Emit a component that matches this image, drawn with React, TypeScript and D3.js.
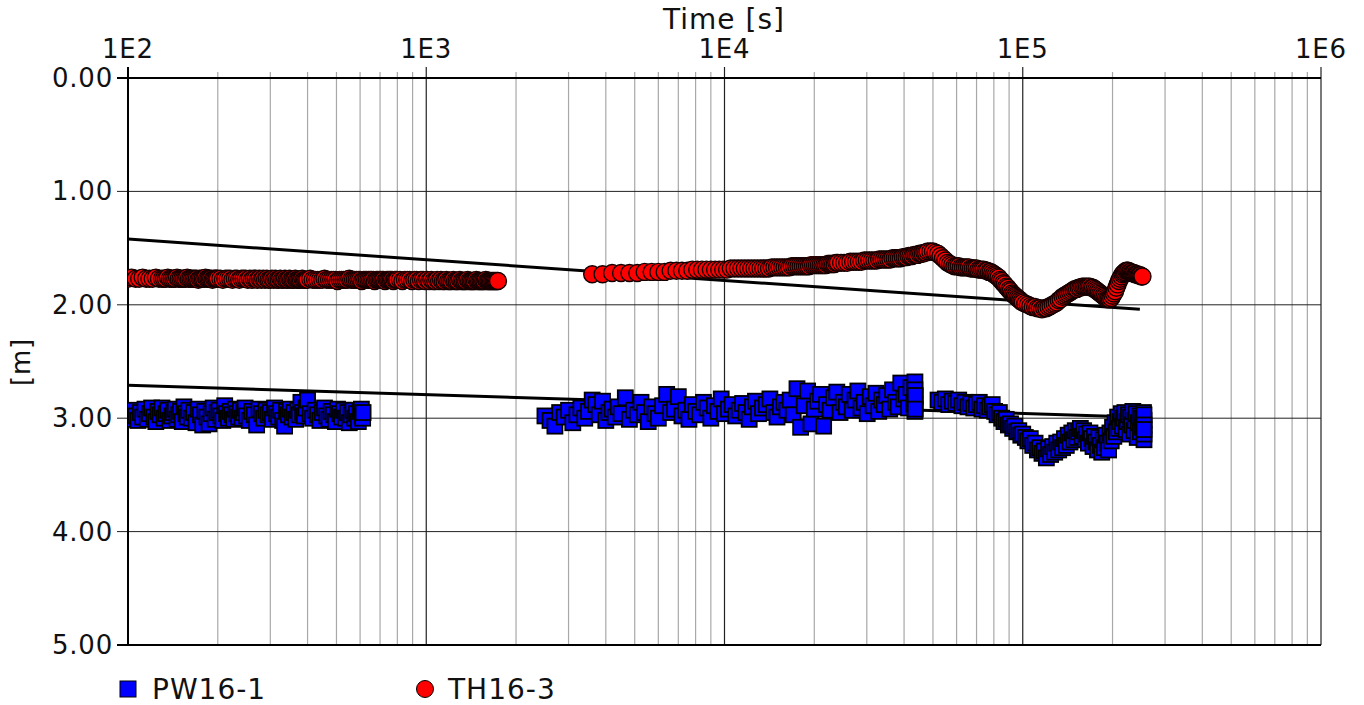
import { useEffect, useRef } from "react";
import * as d3 from "d3";

// time in seconds, drawdown in metres
const X_TICK_LABELS = ["1E2", "1E3", "1E4", "1E5", "1E6"];
const X_TICK_VALUES = [1e2, 1e3, 1e4, 1e5, 1e6];
const Y_TICK_VALUES = [0, 1, 2, 3, 4, 5];

// TH16-3, first block
const TH_A_T = [
  100, 103, 106, 109, 112, 115, 118, 121, 124, 127,
  130, 132, 134, 136, 138, 140, 142, 144, 146, 148,
  150, 152, 154, 156, 158, 160, 162, 164, 166, 168,
  170, 172, 174, 176, 178, 180, 182, 184, 186, 188,
  190, 192, 194, 196, 198, 200, 204, 208, 212, 216,
  220, 224, 228, 232, 236, 240, 244, 248, 252, 256,
  260, 264, 268, 272, 276, 280, 284, 288, 292, 296,
  300, 304, 308, 312, 316, 320, 324, 328, 332, 336,
  340, 344, 348, 352, 356, 360, 364, 368, 372, 376,
  380, 384, 388, 392, 396, 400, 408, 416, 424, 432,
  440, 448, 456, 464, 472, 480, 488, 496, 504, 512,
  520, 528, 536, 544, 552, 560, 568, 576, 584, 592,
  600, 608, 616, 624, 632, 640, 648, 656, 664, 672,
  680, 688, 696, 704, 712, 720, 728, 736, 744, 752,
  760, 768, 776, 784, 792, 800, 816, 832, 848, 864,
  880, 896, 912, 928, 944, 960, 976, 992, 1008, 1024,
  1040, 1056, 1072, 1088, 1104, 1120, 1136, 1152, 1168, 1184,
  1200, 1216, 1232, 1248, 1264, 1280, 1296, 1312, 1328, 1344,
  1360, 1376, 1392, 1408, 1424, 1440, 1456, 1472, 1488, 1504,
  1520, 1536, 1552, 1568, 1584, 1600, 1616, 1632, 1648, 1664,
  1680, 1696, 1712, 1728, 1740,
];
const TH_A_D = [
  1.77, 1.76, 1.77, 1.77, 1.76, 1.77, 1.77, 1.77, 1.76, 1.77,
  1.77, 1.77, 1.77, 1.76, 1.77, 1.77, 1.77, 1.77, 1.76, 1.77,
  1.77, 1.77, 1.77, 1.77, 1.76, 1.77, 1.77, 1.77, 1.77, 1.77,
  1.77, 1.78, 1.77, 1.77, 1.77, 1.77, 1.76, 1.77, 1.77, 1.77,
  1.77, 1.78, 1.77, 1.77, 1.77, 1.77, 1.77, 1.78, 1.77, 1.77,
  1.77, 1.78, 1.77, 1.77, 1.78, 1.77, 1.77, 1.77, 1.78, 1.77,
  1.78, 1.77, 1.77, 1.78, 1.77, 1.78, 1.77, 1.78, 1.77, 1.78,
  1.78, 1.77, 1.78, 1.77, 1.78, 1.78, 1.77, 1.78, 1.78, 1.77,
  1.78, 1.78, 1.77, 1.78, 1.78, 1.78, 1.77, 1.78, 1.78, 1.78,
  1.78, 1.77, 1.78, 1.78, 1.78, 1.78, 1.77, 1.78, 1.78, 1.78,
  1.78, 1.78, 1.77, 1.78, 1.78, 1.78, 1.78, 1.78, 1.79, 1.78,
  1.78, 1.78, 1.78, 1.78, 1.77, 1.78, 1.78, 1.78, 1.78, 1.78,
  1.78, 1.79, 1.78, 1.78, 1.78, 1.78, 1.78, 1.78, 1.78, 1.79,
  1.78, 1.78, 1.78, 1.78, 1.78, 1.78, 1.79, 1.78, 1.78, 1.78,
  1.78, 1.78, 1.79, 1.78, 1.78, 1.78, 1.78, 1.79, 1.78, 1.78,
  1.78, 1.79, 1.78, 1.78, 1.79, 1.78, 1.78, 1.79, 1.78, 1.79,
  1.78, 1.79, 1.79, 1.78, 1.79, 1.78, 1.79, 1.79, 1.78, 1.79,
  1.79, 1.79, 1.78, 1.79, 1.79, 1.79, 1.78, 1.79, 1.79, 1.79,
  1.79, 1.78, 1.79, 1.79, 1.79, 1.79, 1.79, 1.78, 1.79, 1.79,
  1.79, 1.79, 1.79, 1.79, 1.78, 1.79, 1.79, 1.79, 1.79, 1.79,
  1.79, 1.79, 1.79, 1.79, 1.79,
];

// TH16-3, second block
const TH_B_T = [
  3600, 3900, 4200, 4500, 4800, 5100, 5400, 5700, 6000, 6300,
  6600, 6900, 7200, 7500, 7800, 8100, 8400, 8700, 9000, 9300,
  9600, 9900, 10200, 10500, 10800, 11100, 11400, 11700, 12000, 12300,
  12600, 12900, 13200, 13500, 13800, 14100, 14400, 14700, 15000, 15300,
  15600, 15900, 16200, 16500, 16800, 17100, 17400, 17700, 18000, 18300,
  18600, 18900, 19200, 19500, 19800, 20100, 20400, 20700, 21000, 21300,
  21600, 21900, 22200, 22500, 22800, 23100, 23400, 23700, 24000, 24600,
  25200, 25800, 26400, 27000, 27600, 28200, 28800, 29400, 30000, 30600,
  31200, 31800, 32400, 33000, 33600, 34200, 34800, 35400, 36000, 36600,
  37200, 37800, 38400, 39000, 39600, 40200, 40800, 41400, 42000, 42600,
  43200, 43800, 44400, 45000, 45600, 46200, 46800, 47400, 48000, 49000,
  50000, 51000, 52000, 53000, 54000, 55000, 56000, 57000, 58000, 59000,
  60000, 61000, 62000, 63000, 64000, 65000, 66000, 67000, 68000, 69000,
  70000, 71000, 72000, 73000, 74000, 75000, 76000, 77000, 78000, 79000,
  80000, 81000, 82000, 83000, 84000, 85000, 86000, 87000, 88000, 89000,
  90000, 91000, 92000, 93000, 94000, 95000, 96000, 97000, 98000, 99000,
  100000, 102000, 104000, 106000, 108000, 110000, 112000, 114000, 116000, 118000,
  120000, 122000, 124000, 126000, 128000, 130000, 132000, 134000, 136000, 138000,
  140000, 142000, 144000, 146000, 148000, 150000, 152000, 154000, 156000, 158000,
  160000, 162000, 164000, 166000, 168000, 170000, 172000, 174000, 176000, 178000,
  180000, 182000, 184000, 186000, 188000, 190000, 192000, 194000, 196000, 198000,
  200000, 202000, 204000, 206000, 208000, 210000, 212000, 214000, 216000, 218000,
  220000, 222000, 224000, 226000, 228000, 230000, 232000, 234000, 236000, 238000,
  240000, 242000, 244000, 246000, 248000, 250000, 252000,
];
const TH_B_D = [
  1.73, 1.73, 1.72, 1.72, 1.72, 1.72, 1.71, 1.71, 1.71, 1.71,
  1.70, 1.70, 1.70, 1.70, 1.69, 1.69, 1.69, 1.69, 1.69, 1.69,
  1.69, 1.69, 1.69, 1.68, 1.68, 1.68, 1.68, 1.68, 1.68, 1.68,
  1.68, 1.68, 1.68, 1.68, 1.68, 1.68, 1.67, 1.67, 1.67, 1.67,
  1.67, 1.67, 1.67, 1.67, 1.66, 1.66, 1.66, 1.66, 1.66, 1.66,
  1.66, 1.66, 1.66, 1.65, 1.65, 1.65, 1.65, 1.65, 1.65, 1.65,
  1.65, 1.65, 1.64, 1.64, 1.64, 1.64, 1.64, 1.63, 1.63, 1.63,
  1.63, 1.63, 1.62, 1.62, 1.62, 1.62, 1.62, 1.61, 1.61, 1.61,
  1.61, 1.61, 1.61, 1.60, 1.60, 1.60, 1.60, 1.60, 1.60, 1.59,
  1.59, 1.59, 1.59, 1.59, 1.58, 1.58, 1.58, 1.57, 1.57, 1.57,
  1.56, 1.56, 1.56, 1.55, 1.55, 1.55, 1.54, 1.54, 1.53, 1.53,
  1.53, 1.54, 1.55, 1.57, 1.59, 1.61, 1.63, 1.64, 1.65, 1.66,
  1.66, 1.66, 1.67, 1.67, 1.67, 1.67, 1.67, 1.68, 1.68, 1.68,
  1.68, 1.69, 1.69, 1.69, 1.69, 1.70, 1.70, 1.71, 1.71, 1.72,
  1.73, 1.74, 1.75, 1.76, 1.78, 1.79, 1.81, 1.82, 1.84, 1.85,
  1.87, 1.88, 1.90, 1.91, 1.92, 1.93, 1.94, 1.95, 1.96, 1.97,
  1.98, 1.99, 2.00, 2.01, 2.02, 2.02, 2.03, 2.03, 2.04, 2.03,
  2.03, 2.02, 2.01, 2.00, 1.99, 1.98, 1.96, 1.95, 1.93, 1.92,
  1.91, 1.90, 1.89, 1.88, 1.87, 1.86, 1.86, 1.85, 1.85, 1.84,
  1.84, 1.84, 1.84, 1.84, 1.84, 1.85, 1.85, 1.86, 1.87, 1.88,
  1.89, 1.90, 1.91, 1.92, 1.93, 1.94, 1.95, 1.95, 1.95, 1.94,
  1.92, 1.90, 1.88, 1.85, 1.82, 1.79, 1.77, 1.75, 1.73, 1.72,
  1.71, 1.70, 1.70, 1.70, 1.71, 1.71, 1.72, 1.72, 1.72, 1.73,
  1.73, 1.73, 1.74, 1.74, 1.74, 1.75, 1.75,
];

// PW16-1, first block
const PW_A_T = [
  100, 102, 104, 106, 108, 110, 112, 114, 116, 118,
  120, 122, 124, 126, 128, 130, 132, 134, 136, 138,
  140, 142, 144, 146, 148, 150, 152, 154, 156, 158,
  160, 163, 166, 169, 172, 175, 178, 181, 184, 187,
  190, 193, 196, 199, 202, 205, 208, 211, 214, 217,
  220, 223, 226, 229, 232, 235, 238, 241, 244, 247,
  250, 255, 260, 265, 270, 275, 280, 285, 290, 295,
  300, 305, 310, 315, 320, 325, 330, 335, 340, 345,
  350, 355, 360, 365, 370, 375, 380, 385, 390, 395,
  400, 408, 416, 424, 432, 440, 448, 456, 464, 472,
  480, 488, 496, 504, 512, 520, 528, 536, 544, 552,
  560, 568, 576, 584, 592, 600, 606, 610, 612, 614,
];
const PW_A_D = [
  2.97, 3.01, 2.93, 2.98, 3.02, 2.95, 2.99, 2.92, 3.01, 2.96,
  2.91, 2.99, 3.03, 2.94, 2.97, 2.91, 3.00, 2.96, 2.93, 3.02,
  2.98, 2.95, 2.92, 3.01, 2.97, 2.94, 3.03, 2.90, 2.96, 2.99,
  2.93, 3.00, 2.95, 3.04, 2.92, 2.97, 3.06, 2.94, 2.99, 3.05,
  2.96, 2.91, 3.01, 2.95, 2.93, 2.98, 3.02, 2.89, 2.96, 3.00,
  2.94, 2.97, 3.01, 2.92, 2.96, 2.99, 2.93, 3.00, 2.95, 2.91,
  2.98, 3.02, 2.94, 2.97, 3.06, 2.92, 2.96, 3.00, 2.93, 2.97,
  2.95, 3.01, 2.91, 2.96, 2.99, 2.93, 3.02, 3.07, 2.94, 2.97,
  2.92, 2.99, 2.95, 3.01, 2.93, 2.97, 2.86, 2.95, 2.98, 2.91,
  2.84, 2.96, 3.00, 2.93, 2.97, 3.02, 2.95, 2.91, 2.98, 3.01,
  2.94, 2.97, 3.03, 2.92, 2.96, 2.99, 2.93, 3.00, 2.95, 3.04,
  2.97, 2.93, 3.00, 2.96, 3.03, 2.94, 2.92, 2.98, 3.00, 2.95,
];

// PW16-1, second block
const PW_B_T = [
  2500, 2600, 2700, 2800, 2900, 3000, 3100, 3200, 3300, 3400,
  3500, 3600, 3700, 3800, 3900, 4000, 4100, 4200, 4300, 4400,
  4500, 4650, 4800, 4950, 5100, 5250, 5400, 5550, 5700, 5850,
  6000, 6200, 6400, 6600, 6800, 7000, 7200, 7400, 7600, 7800,
  8000, 8250, 8500, 8750, 9000, 9250, 9500, 9750, 10000, 10300,
  10600, 10900, 11200, 11500, 11800, 12100, 12400, 12700, 13000, 13400,
  13800, 14200, 14600, 15000, 15400, 15800, 16200, 16600, 17000, 17500,
  18000, 18500, 19000, 19500, 20000, 20500, 21000, 21500, 22000, 22600,
  23200, 23800, 24400, 25000, 25600, 26200, 26800, 27400, 28000, 28700,
  29400, 30100, 30800, 31500, 32200, 32900, 33600, 34300, 35000, 35800,
  36600, 37400, 38200, 39000, 39800, 40600, 41400, 42200, 43000, 43500,
  43500, 43500, 43500, 43500, 43600, 43600,
];
const PW_B_D = [
  2.98, 3.02, 3.07, 2.95, 2.99, 2.93, 3.04, 2.97, 2.91, 3.00,
  2.94, 2.84, 2.88, 2.97, 2.85, 3.02, 2.95, 2.92, 2.99, 2.90,
  2.96, 2.82, 3.01, 2.93, 2.97, 2.86, 2.95, 3.03, 2.90, 2.96,
  3.00, 2.89, 2.79, 2.95, 2.92, 2.81, 2.98, 2.93, 3.01, 2.88,
  2.94, 2.97, 2.86, 2.91, 3.00, 2.89, 2.94, 2.83, 2.96, 2.92,
  2.88, 2.98, 2.93, 2.87, 2.95, 3.01, 2.90, 2.85, 2.96, 2.91,
  2.88, 2.83, 2.95, 2.99, 2.90, 2.86, 2.93, 2.84, 2.97, 2.74,
  3.08, 2.89, 2.76, 3.05, 2.92, 2.85, 2.79, 3.07, 2.88, 2.93,
  2.82, 2.77, 2.95, 2.86, 2.90, 2.79, 2.93, 2.84, 2.76, 2.91,
  2.86, 2.96, 2.81, 2.89, 2.78, 2.94, 2.84, 2.88, 2.80, 2.92,
  2.75, 2.86, 2.90, 2.69, 2.83, 2.79, 2.91, 2.73, 2.87, 2.82,
  2.68, 2.75, 2.88, 2.94, 2.80, 2.92,
];

// PW16-1, third block
const PW_C_T = [
  52000, 53500, 55000, 56500, 58000, 59500, 61000, 62500, 64000, 65500,
  67000, 68500, 70000, 71500, 73000, 74500, 76000, 77500, 79000, 80500,
  82000, 83500, 85000, 86500, 88000, 89500, 91000, 92500, 94000, 95500,
  97000, 98500, 100000, 102000, 104000, 106000, 108000, 110000, 112000, 114000,
  116000, 118000, 120000, 122000, 124000, 126000, 128000, 130000, 132000, 134000,
  136000, 138000, 140000, 142000, 144000, 146000, 148000, 150000, 152000, 154000,
  156000, 158000, 160000, 162000, 164000, 166000, 168000, 170000, 172000, 174000,
  176000, 178000, 180000, 182000, 184000, 186000, 188000, 190000, 192000, 194000,
  196000, 198000, 200000, 202000, 204000, 206000, 208000, 210000, 212000, 214000,
  216000, 218000, 220000, 222000, 224000, 226000, 228000, 230000, 232000, 234000,
  236000, 238000, 240000, 242000, 244000, 246000, 248000, 250000, 252000, 254000,
  255000, 255000, 255000, 255000, 255000, 255000,
];
const PW_C_D = [
  2.84, 2.86, 2.83, 2.88, 2.85, 2.87, 2.84, 2.89, 2.86, 2.90,
  2.87, 2.91, 2.88, 2.86, 2.92, 2.89, 2.93, 2.90, 2.88, 2.94,
  2.97, 2.95, 3.00, 3.03, 3.01, 3.06, 3.05, 3.09, 3.07, 3.12,
  3.11, 3.15, 3.14, 3.17, 3.20, 3.18, 3.24, 3.22, 3.28, 3.26,
  3.31, 3.29, 3.35, 3.27, 3.32, 3.25, 3.30, 3.22, 3.28, 3.21,
  3.26, 3.18, 3.24, 3.15, 3.21, 3.13, 3.19, 3.11, 3.17, 3.12,
  3.09, 3.16, 3.11, 3.19, 3.14, 3.22, 3.13, 3.18, 3.25, 3.16,
  3.21, 3.28, 3.17, 3.24, 3.30, 3.19, 3.26, 3.15, 3.22, 3.28,
  3.13, 3.20, 3.08, 3.16, 3.04, 3.12, 2.99, 3.09, 3.03, 2.96,
  3.07, 3.00, 2.95, 3.10, 3.03, 2.97, 3.14, 2.99, 3.06, 2.94,
  3.11, 3.02, 2.96, 3.17, 3.04, 2.98, 3.12, 3.00, 3.08, 2.95,
  3.02, 3.19, 2.97, 3.14, 3.06, 3.10,
];

// straight-line fits (start / end)
const FIT_TH_T = [100, 247000];
const FIT_TH_D = [1.42, 2.04];
const FIT_PW_T = [100, 208500];
const FIT_PW_D = [2.71, 2.985];

const zip = (t: number[], d: number[]) => {
  const n = Math.min(t.length, d.length);
  const out: { t: number; d: number }[] = [];
  for (let i = 0; i < n; i++) out.push({ t: t[i], d: d[i] });
  return out;
};

const FONT = "'DejaVu Sans', Verdana, sans-serif";

export default function App() {
  const ref = useRef<SVGSVGElement | null>(null);

  useEffect(() => {
    const width = 1364;
    const height = 705;
    const left = 128;
    const right = 1321;
    const top = 78;
    const bottom = 645;

    const svg = d3.select(ref.current);
    svg.selectAll("*").remove();
    svg.attr("viewBox", `0 0 ${width} ${height}`);

    const x = d3.scaleLog().domain([1e2, 1e6]).range([left, right]);
    const y = d3.scaleLinear().domain([0, 5]).range([top, bottom]);

    svg.append("rect").attr("width", width).attr("height", height).attr("fill", "#fff");

    svg
      .append("defs")
      .append("clipPath")
      .attr("id", "plot-clip")
      .append("rect")
      .attr("x", left)
      .attr("y", top)
      .attr("width", right - left)
      .attr("height", bottom - top);

    // minor vertical grid, poking above the top axis as ticks
    const minors: number[] = [];
    for (let e = 2; e < 6; e++) for (let m = 2; m <= 9; m++) minors.push(m * 10 ** e);

    svg
      .selectAll("line.minor")
      .data(minors)
      .join("line")
      .attr("class", "minor")
      .attr("x1", (v) => x(v))
      .attr("x2", (v) => x(v))
      .attr("y1", top - 6)
      .attr("y2", bottom)
      .attr("stroke", "#a8a8a8")
      .attr("stroke-width", 1.2);

    svg
      .selectAll("line.hgrid")
      .data(Y_TICK_VALUES)
      .join("line")
      .attr("class", "hgrid")
      .attr("x1", left - 11)
      .attr("x2", right)
      .attr("y1", (v) => y(v))
      .attr("y2", (v) => y(v))
      .attr("stroke", "#222")
      .attr("stroke-width", 1);

    svg
      .selectAll("line.major")
      .data(X_TICK_VALUES)
      .join("line")
      .attr("class", "major")
      .attr("x1", (v) => x(v))
      .attr("x2", (v) => x(v))
      .attr("y1", top - 11)
      .attr("y2", bottom)
      .attr("stroke", "#222")
      .attr("stroke-width", 1.2);

    // frame
    svg.append("line").attr("x1", left).attr("x2", left).attr("y1", top - 11).attr("y2", bottom + 1).attr("stroke", "#000").attr("stroke-width", 2);
    svg.append("line").attr("x1", left - 11).attr("x2", right).attr("y1", top).attr("y2", top).attr("stroke", "#000").attr("stroke-width", 2);
    svg.append("line").attr("x1", left - 11).attr("x2", right).attr("y1", bottom).attr("y2", bottom).attr("stroke", "#000").attr("stroke-width", 2);

    const plot = svg.append("g").attr("clip-path", "url(#plot-clip)");

    const line = d3
      .line<{ t: number; d: number }>()
      .x((p) => x(p.t))
      .y((p) => y(p.d));

    [zip(FIT_TH_T, FIT_TH_D), zip(FIT_PW_T, FIT_PW_D)].forEach((fit) => {
      plot.append("path").datum(fit).attr("d", line).attr("fill", "none").attr("stroke", "#000").attr("stroke-width", 3);
    });

    const pw = [...zip(PW_A_T, PW_A_D), ...zip(PW_B_T, PW_B_D), ...zip(PW_C_T, PW_C_D)];
    const th = [...zip(TH_A_T, TH_A_D), ...zip(TH_B_T, TH_B_D)];
    const sq = 15;

    plot
      .selectAll("rect.pw")
      .data(pw)
      .join("rect")
      .attr("class", "pw")
      .attr("x", (p) => x(p.t) - sq / 2)
      .attr("y", (p) => y(p.d) - sq / 2)
      .attr("width", sq)
      .attr("height", sq)
      .attr("fill", "#0000ff")
      .attr("stroke", "#000")
      .attr("stroke-width", 1.8);

    plot
      .selectAll("circle.th")
      .data(th)
      .join("circle")
      .attr("class", "th")
      .attr("cx", (p) => x(p.t))
      .attr("cy", (p) => y(p.d))
      .attr("r", 8.5)
      .attr("fill", "#ff0000")
      .attr("stroke", "#140000")
      .attr("stroke-width", 1.4);

    // labels
    svg
      .selectAll("text.xlab")
      .data(X_TICK_VALUES)
      .join("text")
      .attr("class", "xlab")
      .attr("x", (v) => x(v))
      .attr("y", 58)
      .attr("text-anchor", "middle")
      .attr("font-family", FONT)
      .attr("font-size", 26)
      .attr("letter-spacing", 0.8)
      .attr("fill", "#111")
      .text((_, i) => X_TICK_LABELS[i]);

    svg
      .selectAll("text.ylab")
      .data(Y_TICK_VALUES)
      .join("text")
      .attr("class", "ylab")
      .attr("x", 113)
      .attr("y", (v) => y(v) + 9)
      .attr("text-anchor", "end")
      .attr("font-family", FONT)
      .attr("font-size", 26)
      .attr("letter-spacing", 0.8)
      .attr("fill", "#111")
      .text((v) => d3.format(".2f")(v));

    svg
      .append("text")
      .attr("x", 724)
      .attr("y", 29)
      .attr("text-anchor", "middle")
      .attr("font-family", FONT)
      .attr("font-size", 28)
      .attr("letter-spacing", 1)
      .attr("fill", "#111")
      .text("Time [s]");

    svg
      .append("text")
      .attr("transform", "translate(30,362) rotate(-90)")
      .attr("text-anchor", "middle")
      .attr("font-family", FONT)
      .attr("font-size", 26)
      .attr("letter-spacing", 0.8)
      .attr("fill", "#111")
      .text("[m]");

    // legend
    svg.append("rect").attr("x", 120).attr("y", 681).attr("width", 16).attr("height", 16).attr("fill", "#0000ff").attr("stroke", "#000");
    svg.append("text").attr("x", 152).attr("y", 699).attr("font-family", FONT).attr("font-size", 28).attr("letter-spacing", 1).attr("fill", "#111").text("PW16-1");
    svg.append("circle").attr("cx", 425).attr("cy", 689).attr("r", 8.5).attr("fill", "#ff0000").attr("stroke", "#000");
    svg.append("text").attr("x", 448).attr("y", 699).attr("font-family", FONT).attr("font-size", 28).attr("letter-spacing", 1).attr("fill", "#111").text("TH16-3");
  }, []);

  return <svg ref={ref} width={1364} height={705} style={{ position: "absolute", left: 0, top: 0 }} />;
}
